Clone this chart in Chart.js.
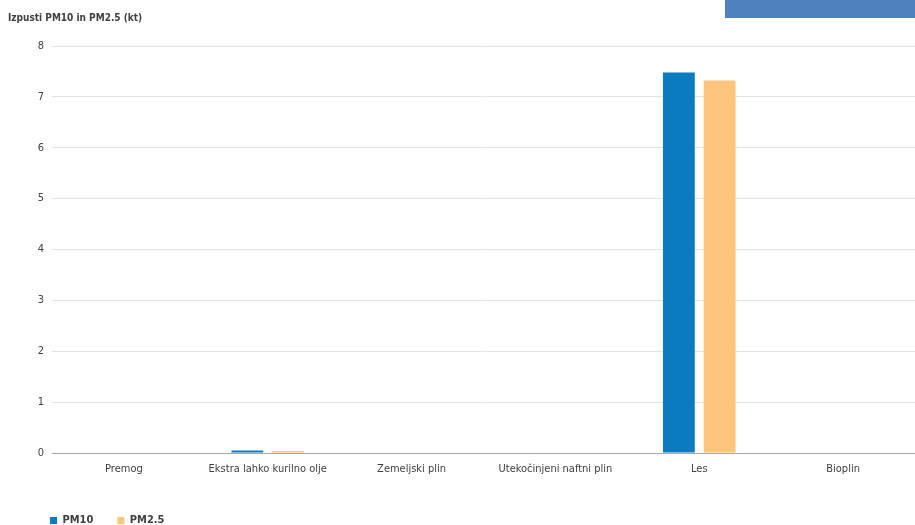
<!DOCTYPE html>
<html>
<head>
<meta charset="utf-8">
<script src="https://cdn.jsdelivr.net/npm/chart.js@4"></script>
<style>
  html, body { margin: 0; padding: 0; background: #fff; }
  #wrap { width: 915px; height: 525px; position: relative; }
</style>
</head>
<body>
<div id="wrap"><canvas id="chart1"></canvas></div>
<script>
// Izpusti po vrsti goriva (kt)
const goriva = ["Premog", "Ekstra lahko kurilno olje", "Zemeljski plin", "Utekočinjeni naftni plin", "Les", "Bioplin"];
const pm10 = [0, 0.05, 0, 0, 7.48, 0];
const pm25 = [0, 0.04, 0, 0, 7.32, 0];
const yTicks = [0, 1, 2, 3, 4, 5, 6, 7, 8];

const pisava = "'DejaVu Sans Condensed', 'Liberation Sans Narrow', sans-serif";

// modri pravokotnik v desnem zgornjem kotu
const okvir = {
  id: 'okvir',
  beforeDraw(chart) {
    const ctx = chart.ctx;
    ctx.save();
    ctx.fillStyle = '#4f81bd';
    ctx.fillRect(725, 0, 190, 18);
    ctx.restore();
  }
};

// legenda malo bolj desno in nižje
const zamikLegende = {
  id: 'zamikLegende',
  afterLayout(chart) {
    const l = chart.legend;
    l.left += 18; l.right += 18;
    l.top += 11; l.bottom += 11;
  }
};

new Chart(document.getElementById("chart1"), {
  type: 'bar',
  data: {
    labels: goriva,
    datasets: [
      { label: "PM10", backgroundColor: "#0a7bbf", data: pm10 },
      { label: "PM2.5", backgroundColor: "#fdc57b", data: pm25 }
    ]
  },
  options: {
    responsive: true,
    maintainAspectRatio: false,
    animation: false,
    layout: { padding: { left: 8, right: 0, top: 12, bottom: 0 } },
    datasets: {
      bar: { categoryPercentage: 0.567, barPercentage: 0.78 }
    },
    plugins: {
      title: {
        display: true,
        text: 'Izpusti PM10 in PM2.5 (kt)',
        align: 'start',
        color: '#404040',
        font: { family: pisava, size: 10 },
        padding: { top: 0, bottom: 22 }
      },
      legend: {
        position: 'bottom',
        align: 'start',
        labels: {
          boxWidth: 7,
          boxHeight: 7,
          padding: 24,
          color: '#404040',
          font: { family: pisava, size: 11, weight: 'bold' }
        }
      },
      tooltip: { enabled: false }
    },
    scales: {
      x: {
        grid: { display: false, drawTicks: false },
        border: { color: '#a6a6a6' },
        ticks: { color: '#404040', font: { family: pisava, size: 11 }, padding: 10, maxRotation: 0 },
        afterFit(scale) { scale.height = 27; }
      },
      y: {
        min: 0,
        max: 8,
        afterBuildTicks(scale) { scale.ticks = yTicks.map(v => ({ value: v })); },
        grid: { color: '#e3e3e3', drawTicks: false },
        border: { display: false },
        ticks: { color: '#404040', font: { family: pisava, size: 11 }, padding: 8 },
        afterFit(scale) { scale.width = 44; }
      }
    }
  },
  plugins: [okvir, zamikLegende]
});
</script>
</body>
</html>
